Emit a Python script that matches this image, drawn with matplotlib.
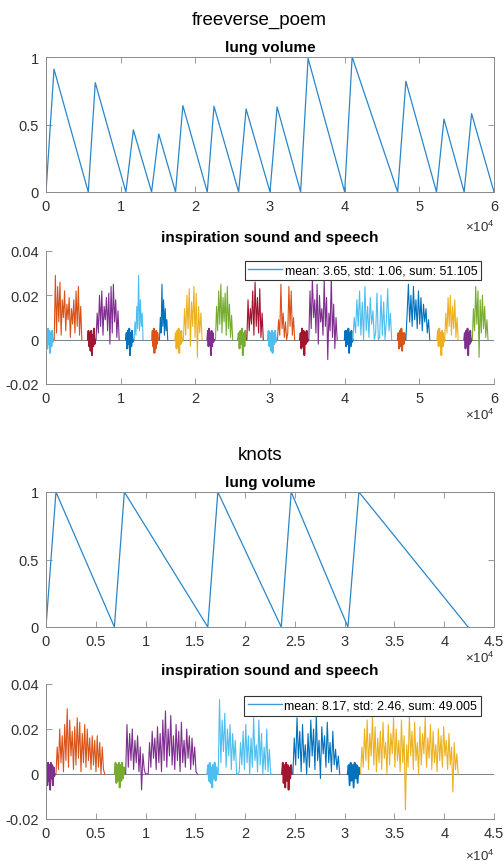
import numpy as np
import matplotlib
matplotlib.use("Agg")
import matplotlib.pyplot as plt
from matplotlib.ticker import FuncFormatter
from matplotlib.lines import Line2D

plt.rcParams['font.family'] = ['Liberation Sans', 'DejaVu Sans']
plt.rcParams['mathtext.fontset'] = 'custom'
plt.rcParams['mathtext.rm'] = 'Liberation Sans'

# matlab default colours
BLUE = '#0072BD'
ORANGE = '#D95319'
YELLOW = '#EDB120'
PURPLE = '#7E2F8E'
GREEN = '#77AC30'
LBLUE = '#4DBEEE'
DRED = '#A2142F'

# ---- freeverse_poem ----
fv_lung_x = [0, 1070, 5660, 6600, 10700, 11700, 14140, 15100, 17350, 18330, 21600, 22500,
             25800, 26800, 30000, 30950, 34100, 35100, 40000, 41000, 47100, 48200, 52300,
             53300, 56000, 57000, 60000]
fv_lung_y = [0, 0.91, 0, 0.81, 0, 0.46, 0, 0.43, 0, 0.64, 0, 0.635, 0, 0.615, 0, 0.63, 0,
             0.99, 0, 1.0, 0, 0.82, 0, 0.54, 0, 0.58, 0]

# sound segments, values in units of 1e-3
fv_seg_start = [0, 1100, 5600, 6700, 10700, 11800, 14200, 15200, 17300, 18400, 21600, 22700,
                25700, 26900, 29700, 31000, 34000, 35200, 40000, 41100, 47100, 48200, 52400,
                53400, 56000, 57100]
fv_seg_end = [1000, 4800, 6600, 9800, 11700, 13000, 15000, 16300, 18300, 20900, 22500, 25000,
              26800, 29100, 30900, 33300, 35100, 39000, 41100, 46300, 48100, 51400, 53400,
              55200, 57000, 59200]
fv_seg_color = [LBLUE, ORANGE, DRED, PURPLE, BLUE, LBLUE, ORANGE, BLUE, YELLOW, YELLOW, PURPLE,
                GREEN, GREEN, DRED, LBLUE, ORANGE, DRED, PURPLE, BLUE, LBLUE, ORANGE, BLUE,
                YELLOW, YELLOW, PURPLE, GREEN]

fv_in1 = [0, 3, -4, 5, -2, 4, -6, 3, -3, 4, -1, 0]
fv_sp1 = [0, 29, 3, 24, 8, 26, 2, 18, 10, 22, 4, 16, 9, 19, 1, 14, 7, 18, 3, 22, 6, 24, 2, 15, 0]
fv_in2 = [0, 4, -3, 3, -5, 4, -7, 2, -3, 5, -2, 0]
fv_sp2 = [0, 12, 3, 20, 6, 22, 2, 15, 9, 19, 4, 21, -2, 24, 3, 25, 8, 18, 1, 13, 0]
fv_in3 = [0, 3, -4, 4, -2, 5, -7, 3, -3, 4, -1, 0]
fv_sp3 = [0, 8, 2, 15, 5, 29, 4, 18, 6, 12, 0]
fv_in4 = [0, 4, -3, 5, -6, 3, -4, 4, -2, 3, 0]
fv_sp4 = [0, 10, 3, 25, 6, 18, 2, 14, 4, 9, 0]
fv_in5 = [0, 3, -4, 4, -3, 5, -6, 3, -2, 4, -1, 0]
fv_sp5 = [0, 14, 2, 20, 5, 23, -3, 17, 6, 24, 1, 21, -8, 15, 3, 12, 0]
fv_in6 = [0, 4, -3, 5, -2, 3, -7, 4, -3, 3, -1, 0]
fv_sp6 = [0, 15, 4, 22, 7, 25, 3, 19, 8, 21, 2, 24, 5, 16, 1, 11, 0]
fv_in7 = [0, 3, -4, 4, -2, 5, -7, 3, -3, 4, 0]
fv_sp7 = [0, 18, 4, 14, 7, 22, 2, 26, 6, 19, 3, 23, 1, 12, 0]
fv_in8 = [0, 4, -3, 3, -5, 4, -6, 3, -2, 4, -1, 0]
fv_sp8 = [0, 9, 2, 25, 5, 12, 1, 8, 0, 3, 24, 6, 22, 2, 10, 0]
fv_in9 = [0, 3, -4, 5, -3, 4, -7, 3, -2, 4, -1, 0]
fv_sp9 = [0, 22, 5, 28, 10, 18, 3, 25, -2, 20, 8, 14, 2, 27, 6, 19, -9, 12, 4, 28, 1, 16, -4,
          10, 0]
fv_in10 = [0, 4, -3, 4, -2, 5, -6, 3, -3, 4, -1, 0]
fv_sp10 = [0, 10, 3, 18, 6, 22, 2, 17, 0, 24, 4, 15, 1, 19, 7, 13, 0, 3, 21, 0, 1, 20, 2, 17,
           0, 8, 23, 4, 12, 0]
fv_in11 = [0, 3, -4, 4, -3, 5, -5, 3, -2, 3, 0]
fv_sp11 = [0, 12, 25, 8, 20, 6, 24, 9, 18, 5, 22, 7, 19, 4, 16, 8, 14, 3, 9, 0]
fv_in12 = [0, 4, -3, 5, -2, 3, -7, 4, -3, 3, -1, 0]
fv_sp12 = [0, 12, 3, 19, 6, 20, 2, 15, 5, 18, 1, 10, 0]
fv_in13 = [0, 3, -4, 4, -3, 5, -7, 3, -2, 4, -1, 0]
fv_sp13 = [0, 14, 4, 24, 7, 22, -8, 18, 3, 20, 5, 15, 1, 9, 0]

fv_legend = 'mean: 3.65, std: 1.06, sum: 51.105'

# ---- knots ----
kn_lung_x = [0, 1000, 6870, 7870, 16250, 17260, 23630, 24630, 30330, 31430, 42400]
kn_lung_y = [0, 1, 0, 1, 0, 1, 0, 1, 0, 1, 0]

kn_seg_start = [0, 1000, 6900, 8000, 16200, 17300, 23700, 24800, 30300, 31600]
kn_seg_end = [900, 5900, 7900, 15200, 17200, 22700, 24700, 29500, 31500, 41400]
kn_seg_color = [PURPLE, ORANGE, GREEN, PURPLE, LBLUE, LBLUE, DRED, BLUE, BLUE, YELLOW]

kn_in1 = [0, 4, -5, 5, -3, 4, -7, 5, -2, 4, -5, 3, -1, 0]
kn_sp1 = [0, 12, 2, 20, 5, 17, 1, 22, 6, 29, 3, 24, 8, 19, 2, 21, 4, 25, 7, 23, 1, 18, 5, 22,
          3, 20, 6, 16, 2, 17, 4, 15, 1, 17, 3, 14, 0, 12, 2, 0]
kn_in2 = [0, 5, -4, 4, -3, 5, -6, 4, -3, 5, -2, 3, 0]
kn_sp2 = [0, 22, 3, 18, 6, 20, 2, 15, 5, 17, 1, 12, -7, 9, 2, 0, 0, 0, 14, 3, 19, 7, 16, 2,
          21, 5, 18, 1, 24, 6, 28, 3, 20, 8, 26, 4, 17, 2, 22, 6, 19, 1, 23, 5, 15, 3, 20, 7,
          17, 2, 16, 4, 12, 1, 0]
kn_in3 = [0, 4, -3, 5, -4, 3, -6, 4, -2, 5, -3, 3, 0]
kn_sp3 = [0, 33, 5, 24, 10, 27, 3, 20, 8, 22, 2, 18, 6, 15, 0, 0, 1, 14, 4, 19, 2, 22, 5, 17,
          0, 16, 3, 25, 6, 13, 1, 24, 4, 18, 0, 12, 2, 20, 1, 11, 0, 0]
kn_in4 = [0, 5, -4, 4, -6, 5, -3, 4, -7, 3, -2, 4, 0]
kn_sp4 = [0, 16, 4, 25, 7, 19, 1, 22, 5, 13, 0, 18, 3, 24, 8, 20, 2, 26, 6, 15, -2, 21, 9, 17,
          3, 23, 5, 14, 1, 19, 4, 11, 2, 8, 0]
kn_in5 = [0, 4, -5, 5, -3, 4, -6, 5, -2, 4, -4, 3, 0]
kn_sp5 = [0, 12, 3, 20, 6, 24, 2, 18, 8, 26, 4, 21, 1, 16, 5, 19, 2, 23, 7, 14, 0, 22, 4, 18,
          9, 25, 3, 20, 6, 15, 1, 24, 5, 17, -16, 13, 3, 26, 8, 19, 2, 23, 6, 14, 0, 21, 4, 18,
          9, 25, 3, 16, 7, 22, 2, 19, 5, 13, 1, 20, 6, 17, 3, 21, 8, 15, 2, 18, 4, 12, -8, 14,
          2, 9, 0]

kn_legend = 'mean: 8.17, std: 2.46, sum: 49.005'

fv_seg_vals = [fv_in1, fv_sp1, fv_in2, fv_sp2, fv_in3, fv_sp3, fv_in4, fv_sp4, fv_in5, fv_sp5,
               fv_in6, fv_sp6, fv_in7, fv_sp7, fv_in8, fv_sp8, fv_in9, fv_sp9, fv_in10, fv_sp10,
               fv_in11, fv_sp11, fv_in12, fv_sp12, fv_in13, fv_sp13]
kn_seg_vals = [kn_in1, kn_sp1, kn_in2, kn_sp2, kn_in3, kn_sp3, kn_in4, kn_sp4, kn_in5, kn_sp5]

TXT = '#303030'
EDGE = '#8a8a8a'
xfmt = FuncFormatter(lambda v, p: f'{v / 1e4:g}')
yfmt = FuncFormatter(lambda v, p: f'{v:g}')


def style(ax, box):
    ax.tick_params(direction='in', length=4, width=0.6, colors=EDGE, labelcolor=TXT,
                   labelsize=10.5, top=box, right=box, pad=5)
    for s in ax.spines.values():
        s.set_color(EDGE)
        s.set_linewidth(0.7)
    if not box:
        ax.spines['top'].set_visible(False)
        ax.spines['right'].set_visible(False)
    ax.xaxis.set_major_formatter(xfmt)
    ax.yaxis.set_major_formatter(yfmt)


def lung(ax, xs, ys, xmax, xstep):
    ax.plot(xs, ys, color='#2a86c8', lw=0.9)
    ax.set_xlim(0, xmax)
    ax.set_ylim(0, 1)
    ax.set_xticks(np.arange(0, xmax + 1, xstep))
    ax.set_yticks([0, 0.5, 1])
    ax.set_title('lung volume', fontsize=11, fontweight='bold', pad=4, color='black')
    style(ax, True)


def sound(ax, starts, ends, colors, vals, xmax, xstep, label, leg_top):
    ax.plot([0, xmax], [0, 0], color='#5a6f80', lw=0.6)
    for i, (s, e, c, v) in enumerate(zip(starts, ends, colors, vals)):
        lw = 1.3 if i % 2 == 0 else 0.8
        ax.plot(np.linspace(s, e, len(v)), np.array(v) * 1e-3, color=c, lw=lw)
    ax.set_xlim(0, xmax)
    ax.set_ylim(-0.02, 0.04)
    ax.set_xticks(np.arange(0, xmax + 1, xstep))
    ax.set_yticks([-0.02, 0, 0.02, 0.04])
    ax.set_title('inspiration sound and speech', fontsize=11, fontweight='bold', pad=7,
                 color='black')
    style(ax, False)
    h = Line2D([], [], color='#3d9ad6', lw=1.0)
    leg = ax.legend([h], [label], loc='upper right', bbox_to_anchor=(0.971, leg_top),
                    borderaxespad=0, fontsize=9, fancybox=False, framealpha=1,
                    handlelength=2.7, handletextpad=0.2, borderpad=0.3)
    leg.get_frame().set_edgecolor('#333333')
    leg.get_frame().set_linewidth(0.8)


def exp_label(ax, y):
    ax.text(1.0, y, '×10$^{4}$', transform=ax.transAxes, ha='right', va='top',
            fontsize=9.5, color=TXT)


fig = plt.figure(figsize=(5.04, 8.62), dpi=100)
L, W = 46 / 504, 448 / 504

ax1 = fig.add_axes([L, 1 - 193 / 862, W, 135 / 862])
lung(ax1, fv_lung_x, fv_lung_y, 60000, 10000)
exp_label(ax1, -0.2)

ax2 = fig.add_axes([L, 1 - 385 / 862, W, 133 / 862])
sound(ax2, fv_seg_start, fv_seg_end, fv_seg_color, fv_seg_vals, 60000, 10000, fv_legend, 0.925)
exp_label(ax2, -0.17)

ax3 = fig.add_axes([L, 1 - 628 / 862, W, 135 / 862])
lung(ax3, kn_lung_x, kn_lung_y, 45000, 5000)
exp_label(ax3, -0.17)

ax4 = fig.add_axes([L, 1 - 820 / 862, W, 135 / 862])
sound(ax4, kn_seg_start, kn_seg_end, kn_seg_color, kn_seg_vals, 45000, 5000, kn_legend, 0.911)
exp_label(ax4, -0.21)

fig.text(0.515, 1 - 20 / 862, 'freeverse_poem', ha='center', va='center', fontsize=13.5)
fig.text(0.516, 1 - 455 / 862, 'knots', ha='center', va='center', fontsize=13.5)

fig.savefig('out.png', dpi=100)
